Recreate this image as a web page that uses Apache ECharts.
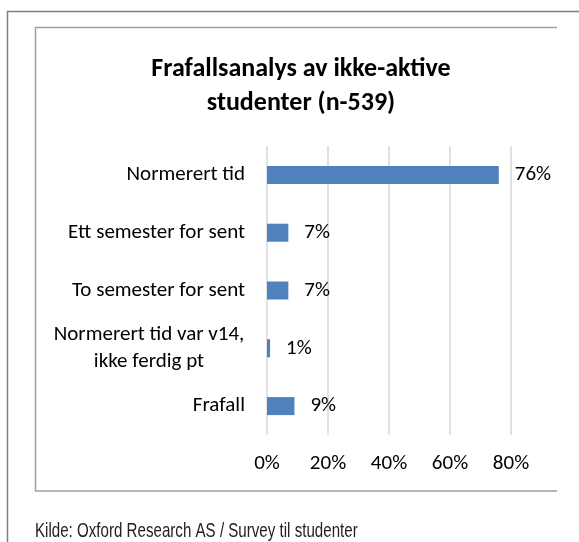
<!DOCTYPE html>
<html>
<head>
<meta charset="utf-8">
<script src="https://cdn.jsdelivr.net/npm/echarts@6/dist/echarts.min.js"></script>
<style>
  html, body { margin: 0; padding: 0; background: #fff; }
  #chart { width: 579px; height: 542px; }
</style>
</head>
<body>
<div id="chart"></div>
<script>
// data
var categories = [
  'Normerert tid',
  'Ett semester for sent',
  'To semester for sent',
  'Normerert tid var v14,\nikke ferdig pt',
  'Frafall'
];
var shares = [76, 7, 7, 1, 9];
var xTicks = [0, 20, 40, 60, 80];

var titleText = 'Frafallsanalys av ikke-aktive\nstudenter (n-539)';
var sourceText = 'Kilde: Oxford Research AS / Survey til studenter';

var font = 'Carlito, Lato, "Noto Sans", sans-serif';

var chart = echarts.init(document.getElementById('chart'));

var option = {
  animation: false,
  title: {
    text: titleText,
    left: 296,
    top: 47,
    textAlign: 'center',
    textStyle: {
      fontFamily: font,
      fontSize: 26,
      fontWeight: 'bold',
      lineHeight: 34,
      color: '#000'
    }
  },
  grid: {
    left: 267,
    right: 68,
    top: 146,
    bottom: 107,
    containLabel: false
  },
  xAxis: {
    type: 'value',
    min: xTicks[0],
    max: xTicks[xTicks.length - 1],
    interval: 20,
    axisLine: { show: false },
    axisTick: { show: false },
    splitLine: { lineStyle: { color: '#d9d9d9', width: 1.5 } },
    axisLabel: {
      margin: 18,
      fontFamily: font,
      fontSize: 21,
      color: '#000',
      formatter: '{value}%'
    }
  },
  yAxis: {
    type: 'category',
    inverse: true,
    data: categories,
    axisLine: { show: false },
    axisTick: { show: false },
    axisLabel: {
      margin: 22,
      fontFamily: font,
      fontSize: 21,
      color: '#000',
      formatter: function (val) {
        if (val.indexOf('\n') < 0) return val;
        return val.split('\n').map(function (s) { return '{c|' + s + '}'; }).join('\n');
      },
      rich: {
        c: { width: 192, align: 'center', fontFamily: font, fontSize: 21, lineHeight: 27, color: '#000' }
      }
    }
  },
  series: [{
    type: 'bar',
    data: shares,
    barWidth: 18,
    itemStyle: { color: '#4f81bd' },
    label: {
      show: true,
      position: 'right',
      distance: 16,
      fontFamily: font,
      fontSize: 21,
      color: '#000',
      formatter: '{c}%'
    }
  }],
  graphic: [
    // outer frame
    { type: 'polyline', silent: true, shape: { points: [[7.5, 560], [7.5, 11.5], [600, 11.5]] },
      style: { stroke: '#7f7f7f', lineWidth: 1.5, fill: null } },
    // chart area frame
    { type: 'polyline', silent: true, shape: { points: [[557, 27.5], [35.5, 27.5], [35.5, 491], [557, 491]] },
      style: { stroke: '#a0a0a0', lineWidth: 1.5, fill: null } },
    {
      type: 'text', left: 35, top: 522, silent: true, scaleX: 0.84, scaleY: 1.1,
      style: {
        text: sourceText,
        font: '18px "Liberation Sans", Arial, sans-serif',
        fill: '#222'
      }
    }
  ]
};

chart.setOption(option);
</script>
</body>
</html>
